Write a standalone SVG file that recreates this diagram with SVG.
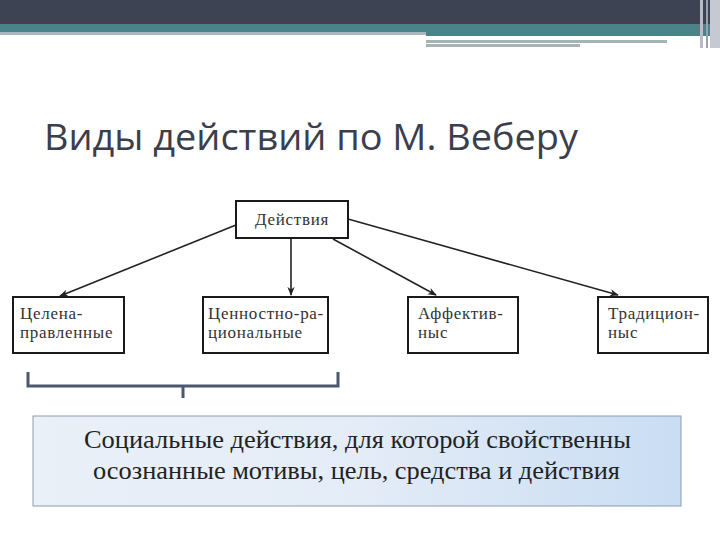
<svg xmlns="http://www.w3.org/2000/svg" width="720" height="540" viewBox="0 0 720 540">
<style>
.node rect{fill:#fff;stroke:#1a1a1a;stroke-width:2}
.node text{font-family:"Liberation Serif","DejaVu Serif",serif;font-size:17px;letter-spacing:0.7px;fill:#333}
.conn line{stroke:#222;stroke-width:1.6;marker-end:url(#ah)}
.big{font-family:"Liberation Serif","DejaVu Serif",serif;font-size:25px;fill:#222}
</style>
<defs>
<marker id="ah" viewBox="0 0 10 10" refX="9" refY="5" markerWidth="9" markerHeight="9" markerUnits="userSpaceOnUse" orient="auto"><path d="M0,1 L10,5 L0,9 L3,5 Z" fill="#222"/></marker>
<linearGradient id="bg" x1="0" y1="0" x2="1" y2="0"><stop offset="0" stop-color="#eaf0f8"/><stop offset="0.5" stop-color="#e4ecf7"/><stop offset="1" stop-color="#c9ddf3"/></linearGradient>
</defs>
<rect width="720" height="540" fill="#fff"/>
<rect x="0" y="0" width="720" height="23" fill="#3e4353"/>
<rect x="0" y="21" width="720" height="3" fill="#45404f"/>
<rect x="0" y="24" width="720" height="8" fill="#4a8489"/>
<rect x="0" y="32" width="426" height="3" fill="#a9b8bf"/>
<rect x="426" y="32" width="284" height="4" fill="#4a8489"/>
<rect x="426" y="40" width="241" height="3" fill="#a6b4b4"/>
<rect x="426" y="44" width="154" height="3" fill="#a6b4b4"/>
<rect x="700" y="0" width="3" height="48" fill="#b8bcc8"/>
<rect x="706" y="0" width="2" height="48" fill="#9aa0b0"/>
<rect x="710" y="0" width="10" height="48" fill="#c6c8d2"/>
<text x="44" y="150" font-family="Open Sans, Noto Sans, sans-serif" font-size="37" textLength="534" lengthAdjust="spacingAndGlyphs" fill="#3b3e4b">Виды действий по М. Веберу</text>
<g class="conn">
<line x1="236" y1="225" x2="60" y2="296"/>
<line x1="291" y1="238" x2="291" y2="295"/>
<line x1="333" y1="239" x2="436" y2="295"/>
<line x1="348" y1="219" x2="618" y2="295"/>
</g>
<g id="n-actions" class="node"><rect x="236" y="201" width="112" height="37"/><text x="292" y="225" text-anchor="middle">Действия</text></g>
<g id="n-goal" class="node"><rect x="13" y="297" width="111" height="56"/><text x="20" y="319">Целена-</text><text x="20" y="338">правленные</text></g>
<g id="n-value" class="node"><rect x="203" y="297" width="125" height="56"/><text x="208" y="319">Ценностно-ра-</text><text x="208" y="338">циональные</text></g>
<g id="n-affect" class="node"><rect x="408" y="297" width="110" height="56"/><text x="418" y="319">Аффектив-</text><text x="418" y="338">ныс</text></g>
<g id="n-trad" class="node"><rect x="598" y="297" width="110" height="56"/><text x="608" y="319">Традицион-</text><text x="608" y="338">ныс</text></g>
<path d="M28,372 V386 H338 V372 M183,386 V398" fill="none" stroke="#4a5870" stroke-width="3"/>
<g id="n-social">
<rect x="33" y="416" width="648" height="90" fill="url(#bg)" stroke="#8e9cab" stroke-width="1"/>
<text class="big" x="84" y="448" textLength="547" lengthAdjust="spacingAndGlyphs">Социальные действия, для которой свойственны</text>
<text class="big" x="93" y="479" textLength="527" lengthAdjust="spacingAndGlyphs">осознанные мотивы, цель, средства и действия</text>
</g>
</svg>
